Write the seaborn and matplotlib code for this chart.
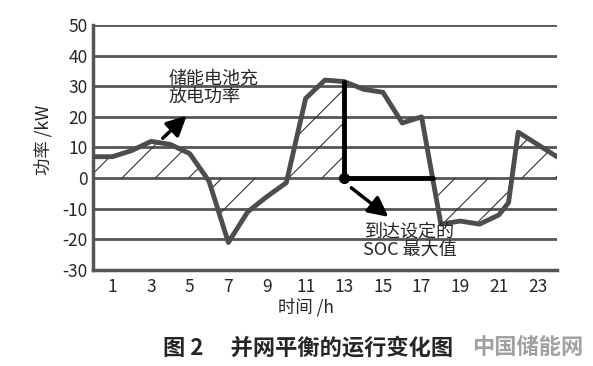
import numpy as np
import pandas as pd
import matplotlib
matplotlib.use('Agg')
import matplotlib.pyplot as plt
import seaborn as sns

# 储能电池充放电功率 (kW)
hours = [0, 1, 2, 3, 4, 5, 6, 7, 8, 9, 10, 11, 12, 13, 14, 15, 16, 17, 18, 19, 20, 21, 21.5, 22, 23, 24]
power = [7, 7, 9, 12, 11, 8, -1, -21, -11, -6, -1.5, 26, 32, 31.5, 29, 28, 18, 20, -15, -14, -15, -12, -8, 15, 11, 7]
x_ticks = list(range(1, 24, 2))
y_ticks = list(range(-30, 51, 10))
soc_hour = 13

sns.set_style('white')
plt.rcParams['font.family'] = ['Noto Sans CJK SC', 'DejaVu Sans']
plt.rcParams['axes.unicode_minus'] = False
plt.rcParams['hatch.linewidth'] = 0.8
plt.rcParams['hatch.color'] = '#333333'

df = pd.DataFrame({'hour': hours, 'power': power})

fig = plt.figure(figsize=(5.93, 3.66), dpi=100)
ax = fig.add_axes([0.157, 0.262, 0.782, 0.67])

line_col = '#4d4d4d'
for v in y_ticks:
    ax.axhline(v, color='#555555', lw=2, zorder=1)

# hatched area (not hatched while SOC is at its maximum)
end_hold = np.interp(0, [power[18], power[17]], [hours[18], hours[17]])
xf = np.linspace(0, 24, 961)
yf = np.interp(xf, hours, power)
ax.fill_between(xf, yf, 0, where=(xf <= soc_hour) | (xf >= end_hold),
                facecolor='none', hatch='/', edgecolor='#333333', linewidth=0, zorder=2)

sns.lineplot(data=df, x='hour', y='power', ax=ax, color=line_col, lw=3.5, zorder=3)

soc_val = power[hours.index(soc_hour)]
ax.plot([soc_hour, soc_hour], [0, soc_val], color='black', lw=3.5, zorder=4)
ax.plot([soc_hour, end_hold], [0, 0], color='black', lw=3.5, zorder=4)
ax.plot([soc_hour], [0], 'o', color='black', ms=7, zorder=5)

ax.annotate('', xy=(4.95, 21), xytext=(3.5, 12.4),
            arrowprops=dict(arrowstyle='-|>', color='black', lw=2.5, mutation_scale=30))
ax.text(3.9, 29.5, '储能电池充\n放电功率', ha='left', va='center', fontsize=13, linespacing=1.05)
ax.annotate('', xy=(15.4, -13.2), xytext=(13.25, -2.6),
            arrowprops=dict(arrowstyle='-|>', color='black', lw=2.5, mutation_scale=30))
ax.text(16.4, -20.3, '到达设定的\nSOC 最大值', ha='center', va='center', fontsize=13, linespacing=1.0)

ax.set_xlim(0, 24)
ax.set_ylim(-30, 50)
ax.set_xticks(x_ticks)
ax.set_yticks(y_ticks)
ax.tick_params(axis='x', direction='in', length=7, width=1.8, color='#333333', pad=6, labelsize=12.5)
ax.tick_params(axis='y', length=0, pad=4, labelsize=12.5)
for s in ['top', 'right']:
    ax.spines[s].set_visible(False)
for s in ['left', 'bottom']:
    ax.spines[s].set_color('#555555')
    ax.spines[s].set_linewidth(2.5)

ax.set_xlabel('时间 /h', fontsize=12.5)
ax.set_ylabel('功率 /kW', fontsize=12.5)
ax.xaxis.set_label_coords(0.46, -0.115)
ax.yaxis.set_label_coords(-0.088, 0.53)

fig.text(0.519, 1 - 348 / 366, '图 2　 并网平衡的运行变化图', ha='center', va='center',
         fontsize=16, weight='bold')
fig.text(0.89, 1 - 348 / 366, '中国储能网', ha='center', va='center',
         fontsize=16, weight='bold', color='#8a8a8a', alpha=0.8)

fig.savefig('out.png', dpi=100)
